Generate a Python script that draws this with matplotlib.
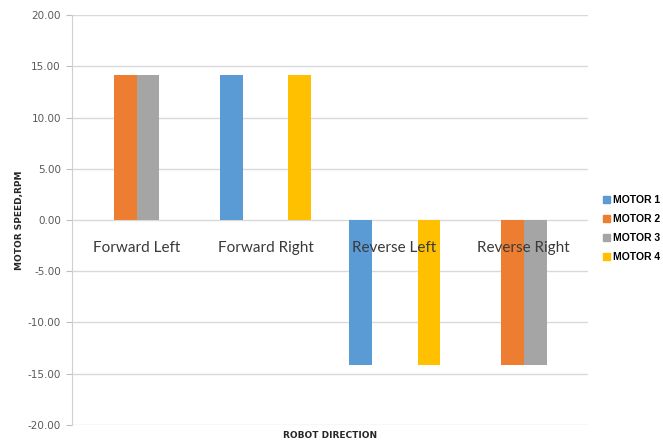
import numpy as np
import matplotlib.pyplot as plt
from matplotlib.patches import Patch

directions = ["Forward Left", "Forward Right", "Reverse Left", "Reverse Right"]
motors = ["MOTOR 1", "MOTOR 2", "MOTOR 3", "MOTOR 4"]
motor1 = [0.00, 14.14, -14.14, 0.00]
motor2 = [14.14, 0.00, 0.00, -14.14]
motor3 = [14.14, 0.00, 0.00, -14.14]
motor4 = [0.00, 14.14, -14.14, 0.00]
colors = ["#5B9BD5", "#ED7D31", "#A5A5A5", "#FFC000"]

fig = plt.figure(figsize=(6.63, 4.44), dpi=100)
ax = fig.add_axes([0.1086, 0.0428, 0.7784, 0.9234])

x = np.arange(len(directions))
w = 0.178
for k, (vals, c) in enumerate(zip([motor1, motor2, motor3, motor4], colors)):
    ax.bar(x + (k - 1.5) * w, vals, width=w, color=c, zorder=2)

# category names sit inside the plot, just under the zero line
for i, name in enumerate(directions):
    ax.text(i, -2.75, name, ha="center", va="center", fontsize=11,
            family="Lato", color="#3a3a3a", zorder=3)

ax.set_xlim(-0.5, 3.5)
ax.set_ylim(-20, 20)
ax.set_yticks(np.arange(-20, 21, 5))
ax.set_yticklabels([f"{v:.2f}" for v in np.arange(-20, 21, 5)])
ax.set_xticks([])
ax.tick_params(axis="y", length=4, color="#bfbfbf", labelsize=7.5,
               labelcolor="#595959", pad=4)
ax.grid(axis="y", color="#d9d9d9", lw=1, zorder=0)
for s in ["top", "right", "bottom"]:
    ax.spines[s].set_visible(False)
ax.spines["left"].set_color("#d0d0d0")

fig.text(0.029, 0.505, "MOTOR SPEED,RPM", rotation=90, ha="center", va="center",
         fontsize=6.5, fontweight="bold", color="#262626")
fig.text(0.498, 0.02, "ROBOT DIRECTION", ha="center", va="center",
         fontsize=6.5, fontweight="bold", color="#262626")

handles = [Patch(color=c, label=m) for c, m in zip(colors, motors)]
fig.legend(handles=handles, loc="center left", bbox_to_anchor=(0.896, 0.485),
           frameon=False, handlelength=0.6, handleheight=0.6, handletextpad=0.3,
           labelspacing=0.85,
           prop={"size": 7.5, "weight": "bold", "family": "Liberation Sans"})

fig.savefig("out.png", dpi=100)
